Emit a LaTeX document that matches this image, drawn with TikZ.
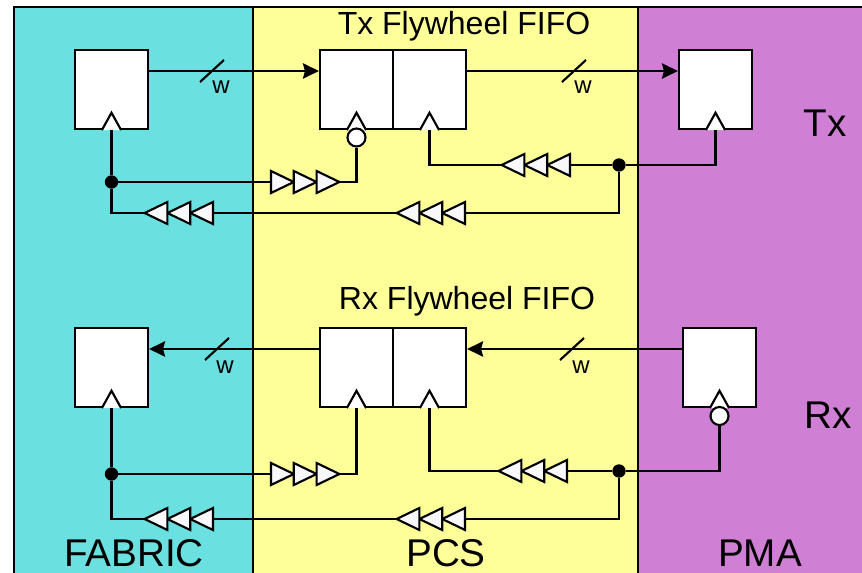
\documentclass[tikz,border=0pt]{standalone}
\usepackage{fontspec}
\setmainfont{Liberation Sans}
\usetikzlibrary{arrows.meta}
\definecolor{fabriccol}{HTML}{6BE0E0}
\definecolor{pcscol}{HTML}{FFFF99}
\definecolor{pmacol}{HTML}{D080D4}
\definecolor{bufcol}{HTML}{F8F8FB}
\newcommand\tribuf[4]{%
  \coordinate (#1in) at (#2,#3);
  \coordinate (#1out) at ({#2+#4*68.5},#3);
  \foreach \k in {0,1,2}
    \draw[bufstyle] ({#2+#4*\k*22.8},{#3-11}) -- ({#2+#4*(\k+1)*22.8},#3) -- ({#2+#4*\k*22.8},{#3+11}) -- cycle;
}
\newcommand\clocktri[1]{%
  \draw[white fill] ([xshift=-7.2pt]#1.south) -- ([yshift=13pt]#1.south) -- ([xshift=7.2pt]#1.south);
}
\newcommand\slashmark[1]{%
  \draw[wire] ([shift={(-12,11)}]#1) -- ([shift={(12,-11)}]#1);
}
\tikzset{
  wire/.style={line width=1.6pt,line cap=butt,line join=miter},
  white fill/.style={line width=1.6pt,fill=white,line join=miter},
  bufstyle/.style={line width=1.6pt,fill=bufcol,line join=miter},
  reg/.style={draw,line width=1.6pt,fill=white,rectangle,minimum width=54.75pt,minimum height=59.25pt,inner sep=0pt},
  bubble/.style={draw,line width=1.6pt,fill=white,circle,minimum size=13.5pt,inner sep=0pt},
  jdot/.style={fill=black,circle,minimum size=10pt,inner sep=0pt},
  bigtext/.style={font=\fontsize{29}{31}\selectfont,anchor=base,inner sep=0pt},
  titletext/.style={font=\fontsize{24}{26}\selectfont,anchor=base,inner sep=0pt},
  wtext/.style={font=\fontsize{18}{20}\selectfont,anchor=base,inner sep=0pt},
  head/.style={-{Stealth[length=12pt,width=11.5pt,inset=1.5pt]}}
}
\begin{document}
\begin{tikzpicture}[x=0.75pt,y=-0.75pt]
\clip (0,0) rectangle (862,573);
\fill[white] (0,0) rectangle (862,573);
\draw[line width=1.6pt,fill=fabriccol] (14,7) rectangle (253,590);
\draw[line width=1.6pt,fill=pcscol] (253,7) rectangle (638,590);
\draw[line width=1.6pt,fill=pmacol] (638,7) rectangle (880,590);
% registers
\node[reg] (a) at (111.5,89.5) {};
\node[reg] (b) at (356.5,89.5) {};
\node[reg] (c) at (429.5,89.5) {};
\node[reg] (d) at (715.5,89.5) {};
\node[reg] (e) at (111.5,367.5) {};
\node[reg] (f) at (356.5,367.5) {};
\node[reg] (g) at (429.5,367.5) {};
\node[reg] (h) at (719.5,367.5) {};
\foreach \n in {a,b,c,d,e,f,g,h} {\clocktri{\n}}
\node[bubble] (bb) at (356.5,137.5) {};
\node[bubble] (bh) at (719.5,416) {};
% row coordinates
\coordinate (txd) at (0,71);
\coordinate (rxd) at (0,349);
% data
\draw[wire,head] (a.east |- txd) -- (b.west |- txd);
\draw[wire,head] (c.east |- txd) -- (d.west |- txd);
\draw[wire,head] (f.west |- rxd) -- (e.east |- rxd);
\draw[wire,head] (h.west |- rxd) -- (g.east |- rxd);
\coordinate (s1) at (212,71);
\coordinate (s2) at (574,71);
\coordinate (s3) at (217,349);
\coordinate (s4) at (572,349);
\slashmark{s1}\slashmark{s2}\slashmark{s3}\slashmark{s4}
\node[wtext] (w1) at (221,94) {w};
\node[wtext] (w2) at (583,94) {w};
\node[wtext] (w3) at (225,373) {w};
\node[wtext] (w4) at (581,373) {w};
% buffers
\tribuf{p}{271}{182}{1}
\tribuf{q}{570}{165}{-1}
\tribuf{r}{465}{213}{-1}
\tribuf{s}{213}{213}{-1}
\tribuf{t}{271}{474}{1}
\tribuf{u}{567}{471}{-1}
\tribuf{v}{465}{519}{-1}
\tribuf{x}{213}{519}{-1}
% junctions
\node[jdot] (j1) at (111.5,182) {};
\node[jdot] (j2) at (619,165) {};
\node[jdot] (j3) at (111.5,474) {};
\node[jdot] (j4) at (619,471) {};
% Tx clocks
\draw[wire] (a.south) -- (j1);
\draw[wire] (j1) -- (pin);
\draw[wire] (pout) -| (bb.south);
\draw[wire] (j1) |- (sout);
\draw[wire] (c.south) |- (qout);
\draw[wire] (qin) -- (j2);
\draw[wire] (j2) -| (d.south);
\draw[wire] (j2) |- (rin);
\draw[wire] (rout) -- (sin);
% Rx clocks
\draw[wire] (e.south) -- (j3);
\draw[wire] (j3) -- (tin);
\draw[wire] (tout) -| (f.south);
\draw[wire] (j3) |- (xout);
\draw[wire] (g.south) |- (uout);
\draw[wire] (uin) -- (j4);
\draw[wire] (j4) -| (bh.south);
\draw[wire] (j4) |- (vin);
\draw[wire] (vout) -- (xin);
% labels
\node[titletext] (t1) at (464,35) {Tx Flywheel FIFO};
\node[titletext] (t2) at (467,309) {Rx Flywheel FIFO};
\node[bigtext] (l1) at (134,566) {FABRIC};
\node[bigtext] (l2) at (446,566) {PCS};
\node[bigtext] (l3) at (760,566) {PMA};
\node[bigtext] (l4) at (825,137) {Tx};
\node[bigtext] (l5) at (828,428) {Rx};
\end{tikzpicture}
\end{document}
